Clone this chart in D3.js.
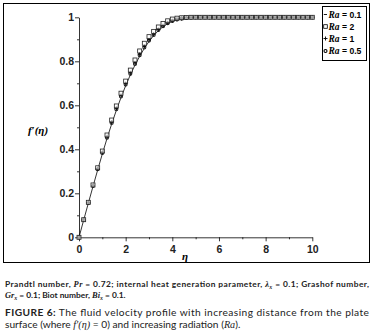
<!DOCTYPE html>
<html><head><meta charset="utf-8">
<script src="https://cdn.jsdelivr.net/npm/d3@7"></script>
<style>
body{margin:0;background:#fff;}
svg{display:block;}
</style></head>
<body>
<svg id="c" width="376" height="333"></svg>
<script>
const eta = [0,0.2,0.4,0.6,0.8,1.0,1.2,1.4,1.6,1.8,2.0,2.2,2.4,2.6,2.8,3.0,3.2,3.4,3.6,3.8,4.0,4.2,4.4,4.6,4.8,
  5.0,5.2,5.4,5.6,5.8,6.0,6.2,6.4,6.6,6.8,7.0,7.2,7.4,7.6,7.8,8.0,8.2,8.4,8.6,8.8,9.0,9.2,9.4,9.6,9.8,10.0];
const ra01 = [0,0.078,0.155,0.231,0.306,0.379,0.449,0.515,0.577,0.635,0.689,0.738,0.783,0.823,0.859,0.890,0.917,0.939,0.957,0.971,0.982,0.989,0.994,0.997,0.999,
  1,1,1,1,1,1,1,1,1,1,1,1,1,1,1,1,1,1,1,1,1,1,1,1,1,1];
const ra2 = [0,0.080,0.159,0.238,0.316,0.392,0.465,0.533,0.597,0.655,0.710,0.760,0.806,0.847,0.882,0.912,0.936,0.956,0.972,0.984,0.992,0.996,0.998,0.999,1,
  1,1,1,1,1,1,1,1,1,1,1,1,1,1,1,1,1,1,1,1,1,1,1,1,1,1];
const ra1 = [0,0.079,0.157,0.235,0.312,0.386,0.457,0.524,0.587,0.645,0.699,0.748,0.793,0.833,0.868,0.898,0.924,0.945,0.962,0.975,0.985,0.991,0.995,0.998,0.999,
  1,1,1,1,1,1,1,1,1,1,1,1,1,1,1,1,1,1,1,1,1,1,1,1,1,1];
const ra05 = [0,0.079,0.156,0.233,0.309,0.383,0.453,0.520,0.582,0.640,0.694,0.743,0.788,0.828,0.863,0.894,0.920,0.942,0.959,0.973,0.983,0.990,0.994,0.997,0.999,
  1,1,1,1,1,1,1,1,1,1,1,1,1,1,1,1,1,1,1,1,1,1,1,1,1,1];
const xTicks = [0,2,4,6,8,10];
const yTicks = [0,0.2,0.4,0.6,0.8,1];
const yTickLabels = ["0","0.2","0.4","0.6","0.8","1"];
const legendLabels = ["0.1","2","1","0.5"];

const svg = d3.select("#c");
const x = d3.scaleLinear().domain([0,10]).range([79,312.3]);
const y = d3.scaleLinear().domain([0,1]).range([237.3,17.3]);

// outer frame
svg.append("rect").attr("x",3.5).attr("y",3.5).attr("width",366).attr("height",259)
  .attr("fill","none").attr("stroke","#000").attr("stroke-width",1);

const tickFont = "'Liberation Sans', Arial, sans-serif";

// x axis
const xAxis = d3.axisBottom(x).tickValues(xTicks).tickFormat(d3.format("d")).tickSize(4).tickSizeOuter(0);
const gx = svg.append("g").attr("transform",`translate(0,${y(0)})`).call(xAxis);
gx.selectAll("text").attr("font-family",tickFont).attr("font-weight","bold").attr("font-size",10.5).attr("dy","0.85em").attr("fill","#222");
gx.select(".domain").attr("stroke","#000").attr("stroke-width",0.8);
gx.selectAll(".tick line").attr("stroke-width",0.8);
const xMinor = d3.axisBottom(x).tickValues([1,3,5,7,9]).tickFormat("").tickSize(2).tickSizeOuter(0);
const gxm = svg.append("g").attr("transform",`translate(0,${y(0)})`).call(xMinor);
gxm.select(".domain").remove();
gxm.selectAll(".tick line").attr("stroke-width",0.8);

// y axis
const yAxis = d3.axisLeft(y).tickValues(yTicks).tickFormat((d,i)=>yTickLabels[i]).tickSize(4).tickSizeOuter(0);
const gy = svg.append("g").attr("transform",`translate(${x(0)},0)`).call(yAxis);
gy.selectAll("text").attr("font-family",tickFont).attr("font-weight","bold").attr("font-size",10.5).attr("fill","#222").attr("x",-5);
gy.select(".domain").attr("stroke","#000").attr("stroke-width",0.8);
gy.selectAll(".tick line").attr("stroke-width",0.8);
const yMinor = d3.axisLeft(y).tickValues([0.1,0.3,0.5,0.7,0.9]).tickFormat("").tickSize(2).tickSizeOuter(0);
const gym = svg.append("g").attr("transform",`translate(${x(0)},0)`).call(yMinor);
gym.select(".domain").remove();
gym.selectAll(".tick line").attr("stroke-width",0.8);

// axis titles
svg.append("text").attr("x",38).attr("y",134).attr("text-anchor","middle")
  .attr("font-family","'Liberation Serif','Times New Roman',serif").attr("font-style","italic").attr("font-weight","bold")
  .attr("font-size",11).text("f\u2032(\u03b7)");
svg.append("text").attr("x",185).attr("y",260).attr("text-anchor","middle")
  .attr("font-family","'Liberation Serif','Times New Roman',serif").attr("font-style","italic").attr("font-weight","bold")
  .attr("font-size",11).text("\u03b7");

// line Ra=0.1
const line = d3.line().x((d,i)=>x(eta[i])).y(d=>y(d));
svg.append("path").datum(ra01).attr("d",line).attr("fill","none").attr("stroke","#000").attr("stroke-width",0.8);

// circles Ra=0.5
svg.append("g").selectAll("circle").data(ra05).join("circle")
  .attr("cx",(d,i)=>x(eta[i])).attr("cy",d=>y(d)).attr("r",1.5)
  .attr("fill","none").attr("stroke","#222").attr("stroke-width",1.1);
// plus Ra=1
svg.append("g").selectAll("path").data(ra1).join("path")
  .attr("d",(d,i)=>{const cx=x(eta[i]),cy=y(d);return `M${cx-2},${cy}H${cx+2}M${cx},${cy-2}V${cy+2}`;})
  .attr("stroke","#000").attr("stroke-width",0.9).attr("fill","none");
// squares Ra=2
svg.append("g").selectAll("rect").data(ra2).join("rect")
  .attr("x",(d,i)=>x(eta[i])-2).attr("y",d=>y(d)-2).attr("width",4).attr("height",4)
  .attr("fill","#fff").attr("fill-opacity",0.6).attr("stroke","#222").attr("stroke-width",0.8);

// legend
const lg = svg.append("g");
lg.append("rect").attr("x",322.5).attr("y",6.5).attr("width",44).attr("height",54)
  .attr("fill","#fff").attr("stroke","#000").attr("stroke-width",1);
const rowY = [14.5,26.5,38.5,51];
legendLabels.forEach((lab,i)=>{
  const cy = rowY[i], cx = 325.5;
  if(i===0) lg.append("line").attr("x1",323.8).attr("x2",327).attr("y1",cy).attr("y2",cy).attr("stroke","#000").attr("stroke-width",0.9);
  if(i===1) lg.append("rect").attr("x",cx-1.8).attr("y",cy-1.8).attr("width",3.6).attr("height",3.6).attr("fill","none").attr("stroke","#000").attr("stroke-width",0.8);
  if(i===2) lg.append("path").attr("d",`M${cx-2},${cy}H${cx+2}M${cx},${cy-2}V${cy+2}`).attr("stroke","#000").attr("stroke-width",0.9);
  if(i===3) lg.append("circle").attr("cx",cx).attr("cy",cy).attr("r",1.5).attr("fill","none").attr("stroke","#000").attr("stroke-width",1.1);
  const t = lg.append("text").attr("x",328.5).attr("y",cy+3.2).attr("font-size",8.6).attr("font-weight","bold")
    .attr("font-family","'Liberation Sans',Arial,sans-serif");
  t.append("tspan").attr("font-family","'Liberation Serif',serif").attr("font-style","italic").attr("font-size",9.5).text("Ra");
  t.append("tspan").text(" = "+lab);
});

// notes
const capFont = "Lato,'Open Sans',sans-serif";
const ser = "'Liberation Serif',serif";
function addLine(yb, parts, len, size, weight){
  const t = svg.append("text").attr("x",5).attr("y",yb).attr("font-family",capFont).attr("font-size",size)
    .attr("font-weight",weight).attr("fill","#222");
  if(len) t.attr("textLength",len).attr("lengthAdjust","spacing");
  parts.forEach(p=>{
    const s = t.append("tspan").text(p.t);
    if(p.i){s.attr("font-family",ser).attr("font-style","italic");}
    if(p.sub){s.attr("font-size",size*0.7).attr("dy",2);}
    if(p.up){s.attr("dy",-2);}
    if(p.b){s.attr("font-weight","bold");}
    if(p.n){s.attr("font-weight","normal");}
  });
  return t;
}
addLine(287,[{t:"Prandtl number, "},{t:"Pr",i:1},{t:" = 0.72; internal heat generation parameter, "},{t:"\u03bb",i:1},{t:"x",i:1,sub:1},{t:" = 0.1; Grashof number,",up:1}],364,8.4,"bold");
addLine(298,[{t:"Gr",i:1},{t:"x",i:1,sub:1},{t:" = 0.1; Biot number, ",up:1},{t:"Bi",i:1},{t:"x",i:1,sub:1},{t:" = 0.1.",up:1}],null,8.4,"bold");
addLine(316,[{t:"FIGURE 6:",b:1},{t:" The fluid velocity profile with increasing distance from the plate",n:1}],364,10.2,"normal");
addLine(327.5,[{t:"surface (where "},{t:"f\u2032(\u03b7)",i:1},{t:" = 0) and increasing radiation ("},{t:"Ra",i:1},{t:")."}],null,10.2,"normal");
</script>
</body></html>
